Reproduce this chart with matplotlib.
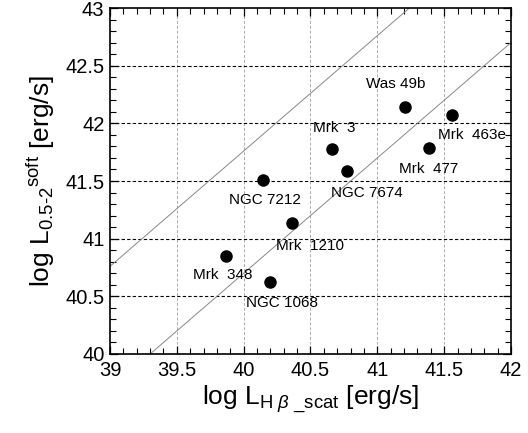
import matplotlib
matplotlib.use("Agg")
import matplotlib.pyplot as plt
import numpy as np

plt.rcParams['font.family'] = ['Liberation Sans', 'DejaVu Sans']
plt.rcParams['mathtext.fontset'] = 'custom'
plt.rcParams['mathtext.rm'] = 'Liberation Sans'
plt.rcParams['mathtext.it'] = 'Liberation Sans:italic'
plt.rcParams['mathtext.bf'] = 'Liberation Sans:bold'

names = ["Was 49b", "Mrk  463e", "Mrk  3", "Mrk  477", "NGC 7674",
         "NGC 7212", "Mrk  1210", "Mrk  348", "NGC 1068"]
log_hbeta = [41.21, 41.556, 40.658, 41.386, 40.775, 40.147, 40.364, 39.87, 40.197]
log_soft = [42.14, 42.07, 41.78, 41.79, 41.59, 41.51, 41.14, 40.85, 40.62]
label_offsets = [(-7.2, 16.6), (14.4, -14.2), (1.7, 14.9), (0, -15.6), (14, -16.3),
                 (1.2, -14.4), (12.7, -17), (-2.2, -13.7), (8.9, -14.7)]
line_intercepts = [1.76, 0.70]

fig = plt.figure(figsize=(5.28, 4.33), dpi=100)
ax = fig.add_axes([110/528, 1-354/433, 401/528, 346/433])

ax.set_xlim(39, 42)
ax.set_ylim(40, 43)

# grid
for xv in [39.5, 40, 40.5, 41, 41.5]:
    ax.axvline(xv, color='#aaaaaa', lw=0.7, ls=(0, (3, 2)), zorder=1)
for yv in [40.5, 41, 41.5, 42, 42.5]:
    ax.axhline(yv, color='black', lw=0.8, ls=(0, (3, 2)), zorder=1)

xx = np.array([39, 42])
for c in line_intercepts:
    ax.plot(xx, xx + c, color='#888888', lw=0.7, zorder=2)

ax.plot(log_hbeta, log_soft, 'o', color='black', ms=8, zorder=3)
for n, x, y, off in zip(names, log_hbeta, log_soft, label_offsets):
    ax.annotate(n, (x, y), xytext=off, textcoords='offset points',
                ha='center', va='center', fontsize=11)

ax.set_xticks([39, 39.5, 40, 40.5, 41, 41.5, 42])
ax.set_xticklabels(['39', '39.5', '40', '40.5', '41', '41.5', '42'])
ax.set_yticks([40, 40.5, 41, 41.5, 42, 42.5, 43])
ax.set_yticklabels(['40', '40.5', '41', '41.5', '42', '42.5', '43'])
ax.set_xticks(np.arange(39, 42.001, 0.1), minor=True)
ax.set_yticks(np.arange(40, 43.001, 0.1), minor=True)
ax.tick_params(which='both', direction='in', top=True, right=True, labelsize=14.5)
ax.tick_params(which='major', length=6, width=0.9)
ax.tick_params(which='minor', length=4, width=0.8)
ax.tick_params(axis='x', pad=5)
ax.tick_params(axis='y', pad=4)
for s in ax.spines.values():
    s.set_linewidth(1.2)

ax.set_xlabel(r"log L$_{\mathrm{H}\ \beta\ \mathrm{\_scat}}$ [erg/s]", fontsize=19, labelpad=3)
ax.set_ylabel(r"log L$_{\mathrm{0.5\text{-}2}}$$^{\mathrm{soft}}$ [erg/s]", fontsize=19, labelpad=6)

fig.savefig("out.png", dpi=100)
